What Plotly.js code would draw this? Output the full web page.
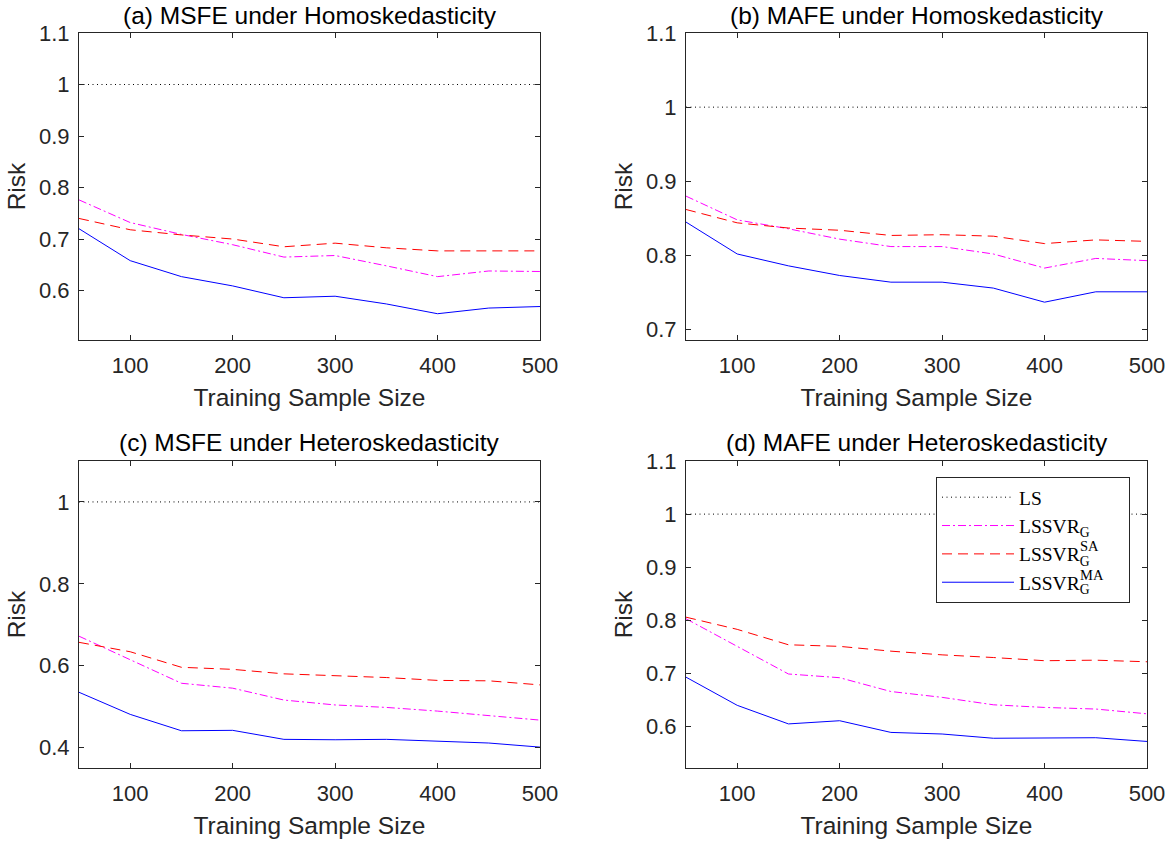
<!DOCTYPE html>
<html>
<head>
<meta charset="utf-8">
<script src="https://cdn.plot.ly/plotly-3.0.1.min.js"></script>
<style>
  html, body { margin: 0; padding: 0; background: #ffffff; }
  #chart { width: 1172px; height: 844px; }
</style>
</head>
<body>
<div id="chart"></div>
<script>
// ---------------- data ----------------
const sampleSize = [50, 100, 150, 200, 250, 300, 350, 400, 450, 500];

const panelTitles = [
  '(a) MSFE under Homoskedasticity',
  '(b) MAFE under Homoskedasticity',
  '(c) MSFE under Heteroskedasticity',
  '(d) MAFE under Heteroskedasticity'
];

// legend labels: base text with subscript, and the superscript stacked above the subscript
const seriesNames = ['LS', 'LSSVR<sub>G</sub>', 'LSSVR<sub>G</sub>', 'LSSVR<sub>G</sub>'];
const seriesSups  = ['', '', 'SA', 'MA'];

// (a) MSFE, homoskedastic
const msfeHomoLS = [1, 1, 1, 1, 1, 1, 1, 1, 1, 1];
const msfeHomoG  = [0.776, 0.732, 0.709, 0.689, 0.665, 0.668, 0.648, 0.627, 0.638, 0.637];
const msfeHomoSA = [0.740, 0.718, 0.708, 0.700, 0.685, 0.692, 0.683, 0.677, 0.677, 0.677];
const msfeHomoMA = [0.720, 0.658, 0.627, 0.609, 0.586, 0.589, 0.574, 0.555, 0.566, 0.569];

// (b) MAFE, homoskedastic
const mafeHomoLS = [1, 1, 1, 1, 1, 1, 1, 1, 1, 1];
const mafeHomoG  = [0.880, 0.848, 0.836, 0.822, 0.812, 0.812, 0.802, 0.783, 0.796, 0.793];
const mafeHomoSA = [0.862, 0.844, 0.837, 0.834, 0.827, 0.828, 0.826, 0.816, 0.821, 0.819];
const mafeHomoMA = [0.845, 0.802, 0.786, 0.773, 0.764, 0.764, 0.756, 0.737, 0.751, 0.751];

// (c) MSFE, heteroskedastic
const msfeHeteroLS = [1, 1, 1, 1, 1, 1, 1, 1, 1, 1];
const msfeHeteroG  = [0.672, 0.614, 0.557, 0.545, 0.516, 0.504, 0.498, 0.489, 0.478, 0.467];
const msfeHeteroSA = [0.657, 0.634, 0.596, 0.591, 0.580, 0.576, 0.571, 0.564, 0.563, 0.553];
const msfeHeteroMA = [0.535, 0.481, 0.441, 0.442, 0.420, 0.419, 0.420, 0.415, 0.411, 0.401];

// (d) MAFE, heteroskedastic
const mafeHeteroLS = [1, 1, 1, 1, 1, 1, 1, 1, 1, 1];
const mafeHeteroG  = [0.803, 0.751, 0.699, 0.692, 0.666, 0.655, 0.641, 0.636, 0.633, 0.624];
const mafeHeteroSA = [0.806, 0.783, 0.754, 0.751, 0.742, 0.735, 0.730, 0.724, 0.725, 0.722];
const mafeHeteroMA = [0.693, 0.640, 0.605, 0.611, 0.589, 0.586, 0.578, 0.578, 0.579, 0.572];

// tick values / labels
const xTickVals = [100, 200, 300, 400, 500];
const xTickText = ['100', '200', '300', '400', '500'];
const yTickValsA = [0.6, 0.7, 0.8, 0.9, 1, 1.1];
const yTickTextA = ['0.6', '0.7', '0.8', '0.9', '1', '1.1'];
const yTickValsB = [0.7, 0.8, 0.9, 1, 1.1];
const yTickTextB = ['0.7', '0.8', '0.9', '1', '1.1'];
const yTickValsC = [0.4, 0.6, 0.8, 1];
const yTickTextC = ['0.4', '0.6', '0.8', '1'];
const yTickValsD = [0.6, 0.7, 0.8, 0.9, 1, 1.1];
const yTickTextD = ['0.6', '0.7', '0.8', '0.9', '1', '1.1'];

// ---------------- styling ----------------
const W = 1172, H = 844;
const AX = '#262626';
const sansFont = 'Liberation Sans, Arial, Helvetica, sans-serif';
const serifFont = 'Liberation Serif, Times New Roman, serif';
const NBSP = '\u00a0';

const lineStyles = [
  { color: '#000000', width: 1, dash: '1px,3.5px' },
  { color: '#ff00ff', width: 1, dash: '8px,3px,2px,3px' },
  { color: '#ff0000', width: 1, dash: '10px,6px' },
  { color: '#0000ff', width: 1, dash: 'solid' }
];

const panels = [
  { ls: msfeHomoLS,   g: msfeHomoG,   sa: msfeHomoSA,   ma: msfeHomoMA,   yr: [0.504, 1.1],  tv: yTickValsA, tt: yTickTextA, px: [79, 540],  py: [33, 340] },
  { ls: mafeHomoLS,   g: mafeHomoG,   sa: mafeHomoSA,   ma: mafeHomoMA,   yr: [0.686, 1.1],  tv: yTickValsB, tt: yTickTextB, px: [686, 1147], py: [33, 340] },
  { ls: msfeHeteroLS, g: msfeHeteroG, sa: msfeHeteroSA, ma: msfeHeteroMA, yr: [0.35, 1.1],   tv: yTickValsC, tt: yTickTextC, px: [79, 540],  py: [461, 768] },
  { ls: mafeHeteroLS, g: mafeHeteroG, sa: mafeHeteroSA, ma: mafeHeteroMA, yr: [0.522, 1.1],  tv: yTickValsD, tt: yTickTextD, px: [686, 1147], py: [461, 768] }
];

// legend geometry (pixels): rows follow plotly's legend layout (border + 5px gap + rows of 1.3*font+3)
const legLeft = 936, legTop = 477, legFont = 19.5;
const legRowH = legFont * 1.3 + 3;
const legRow0 = legTop + 1 + 5 + legRowH / 2;
const supX = 1080;
const legPad = [0, 0, 7, 7];

const traces = [];
const layout = {
  width: W, height: H,
  margin: { l: 0, r: 0, t: 0, b: 0 },
  paper_bgcolor: '#ffffff',
  plot_bgcolor: '#ffffff',
  showlegend: true,
  legend: {
    x: legLeft / W, y: 1 - legTop / H, xanchor: 'left', yanchor: 'top',
    bgcolor: '#ffffff', bordercolor: AX, borderwidth: 1,
    font: { family: serifFont, size: legFont, color: '#000000' },
    itemwidth: 72,
    tracegroupgap: 0
  },
  annotations: []
};

panels.forEach((p, i) => {
  const n = i + 1;
  const xa = n === 1 ? 'x' : 'x' + n;
  const ya = n === 1 ? 'y' : 'y' + n;
  const series = [p.ls, p.g, p.sa, p.ma];
  series.forEach((vals, k) => {
    traces.push({
      type: 'scatter', mode: 'lines',
      x: sampleSize, y: vals,
      xaxis: xa, yaxis: ya,
      name: seriesNames[k] + NBSP.repeat(legPad[k]),
      legendgroup: 'g' + k,
      showlegend: n === 4,
      line: lineStyles[k],
      hoverinfo: 'skip'
    });
  });
  const common = {
    showline: true, linecolor: AX, linewidth: 1, mirror: 'allticks',
    ticks: 'inside', ticklen: 5, tickwidth: 1, tickcolor: AX,
    showgrid: false, zeroline: false,
    tickfont: { family: sansFont, size: 22, color: AX },
    fixedrange: true
  };
  layout[n === 1 ? 'xaxis' : 'xaxis' + n] = Object.assign({}, common, {
    domain: [p.px[0] / W, p.px[1] / W],
    anchor: ya,
    range: [50, 500],
    tickmode: 'array', tickvals: xTickVals, ticktext: xTickText,
    ticklabelstandoff: 6,
    title: { text: 'Training Sample Size', font: { family: sansFont, size: 24.5, color: AX }, standoff: 11 }
  });
  layout[n === 1 ? 'yaxis' : 'yaxis' + n] = Object.assign({}, common, {
    domain: [1 - p.py[1] / H, 1 - p.py[0] / H],
    anchor: xa,
    range: p.yr,
    tickmode: 'array', tickvals: p.tv, ticktext: p.tt,
    ticklabelstandoff: 4,
    title: { text: 'Risk', font: { family: sansFont, size: 24.5, color: AX }, standoff: 6 }
  });
  layout.annotations.push({
    text: panelTitles[i],
    xref: 'paper', yref: 'paper',
    x: (p.px[0] + p.px[1]) / 2 / W, y: 1 - (p.py[0] - 18) / H,
    xanchor: 'center', yanchor: 'middle',
    showarrow: false,
    font: { family: sansFont, size: 24.5, color: '#000000' }
  });
});

// stacked superscripts of the legend labels (placed above the subscript G)
seriesSups.forEach((s, k) => {
  if (!s) return;
  layout.annotations.push({
    text: s,
    xref: 'paper', yref: 'paper',
    x: supX / W, y: 1 - (legRow0 + k * legRowH - 7.5) / H,
    xanchor: 'left', yanchor: 'middle',
    showarrow: false, borderpad: 0, borderwidth: 0,
    font: { family: serifFont, size: 14.5, color: '#000000' }
  });
});

Plotly.newPlot('chart', traces, layout, { displayModeBar: false, staticPlot: true });
</script>
</body>
</html>
